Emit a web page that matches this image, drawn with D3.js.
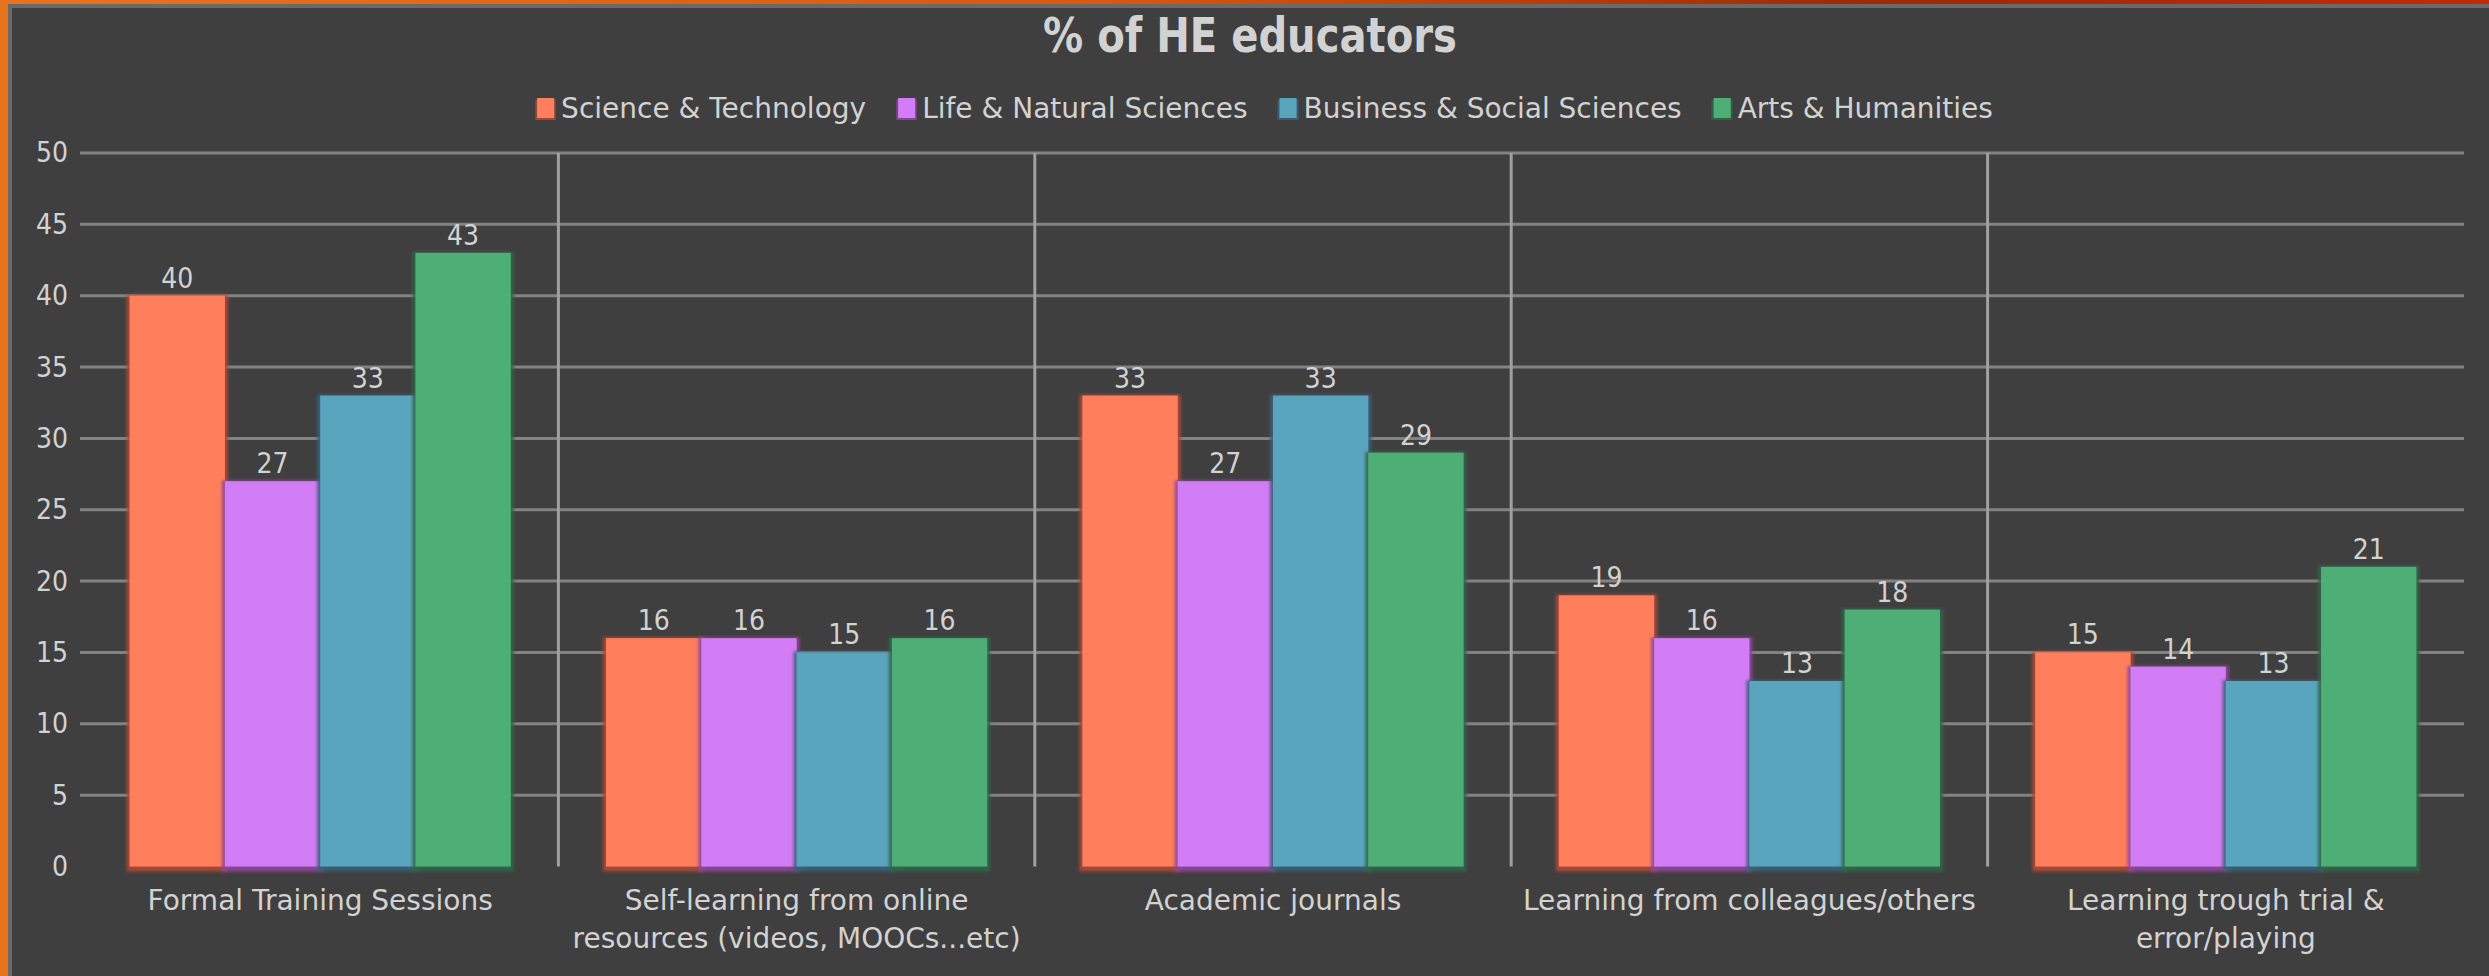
<!DOCTYPE html>
<html>
<head>
<meta charset="utf-8">
<script src="https://cdn.jsdelivr.net/npm/d3@7/dist/d3.min.js"></script>
<style>
  html, body { margin: 0; padding: 0; background: #3f3f3f; }
  svg { display: block; }
  text { font-family: "DejaVu Sans", sans-serif; fill: #d2d2d2; }
  text.num { font-family: "DejaVu Sans Condensed", "DejaVu Sans", sans-serif; font-stretch: condensed; }
</style>
</head>
<body>
<svg id="chart" width="2489" height="976"></svg>
<script>
// ---- data ----
const categories = [
  "Formal Training Sessions",
  "Self-learning from online\nresources (videos, MOOCs...etc)",
  "Academic journals",
  "Learning from colleagues/others",
  "Learning trough trial &\nerror/playing"
];
const seriesNames = ["Science & Technology", "Life & Natural Sciences", "Business & Social Sciences", "Arts & Humanities"];
const scienceTech    = [40, 16, 33, 19, 15];
const lifeNatural    = [27, 16, 27, 16, 14];
const businessSocial = [33, 15, 33, 13, 13];
const artsHumanities = [43, 16, 29, 18, 21];
const seriesValues = [scienceTech, lifeNatural, businessSocial, artsHumanities];
const seriesColors = ["#FF7F5B", "#D27BF5", "#5AA5BE", "#4DAF75"];
const yTicks = [0, 5, 10, 15, 20, 25, 30, 35, 40, 45, 50];
const titleText = "% of HE educators";

// ---- layout ----
const W = 2489, H = 976;
const plot = { left: 82, right: 2464, top: 153, bottom: 866.5 };

const svg = d3.select("#chart");

// frame: orange accent on the left and top edges
const defs = svg.append("defs");
const topGrad = defs.append("linearGradient").attr("id", "topEdge").attr("x1", "0").attr("x2", "1");
[["0%", "#E8731D"], ["45%", "#D9580F"], ["75%", "#9C2A06"], ["100%", "#C22A08"]]
  .forEach(([o, c]) => topGrad.append("stop").attr("offset", o).attr("stop-color", c));

// dark, hue-matched halo under each bar
const halo = defs.append("filter").attr("id", "barHalo")
  .attr("x", "-10%").attr("y", "-5%").attr("width", "120%").attr("height", "115%");
halo.append("feColorMatrix").attr("in", "SourceGraphic").attr("type", "matrix")
  .attr("values", "0.42 0 0 0 0  0 0.3 0 0 0  0 0 0.36 0 0  0 0 0 0.9 0").attr("result", "dark");
halo.append("feMorphology").attr("in", "dark").attr("operator", "dilate").attr("radius", 2.5).attr("result", "fat");
halo.append("feGaussianBlur").attr("in", "fat").attr("stdDeviation", 1.5).attr("result", "soft");
halo.append("feOffset").attr("in", "soft").attr("dx", 0).attr("dy", 2).attr("result", "shifted");
const merge = halo.append("feMerge");
merge.append("feMergeNode").attr("in", "shifted");
merge.append("feMergeNode").attr("in", "SourceGraphic");

svg.append("rect").attr("width", W).attr("height", H).attr("fill", "#3f3f3f");
svg.append("rect").attr("x", 0).attr("y", 4).attr("width", W).attr("height", 4).attr("fill", "#6a6a6a");
svg.append("rect").attr("x", 8).attr("y", 0).attr("width", 4).attr("height", H).attr("fill", "#6a6a6a");
svg.append("rect").attr("x", 0).attr("y", 0).attr("width", W).attr("height", 4).attr("fill", "url(#topEdge)");
svg.append("rect").attr("x", 0).attr("y", 0).attr("width", 8).attr("height", H).attr("fill", "#E8731D");

// ---- scales ----
const x0 = d3.scaleBand().domain(categories).range([plot.left, plot.right]).paddingInner(0).paddingOuter(0);
const bw = x0.bandwidth();
const x1 = d3.scaleBand().domain(seriesNames).range([bw * 0.1, bw * 0.9]).padding(0);
const y = d3.scaleLinear().domain([0, 50]).range([plot.bottom, plot.top]);

// ---- grid ----
svg.append("g").selectAll("line").data(yTicks.filter(t => t > 0)).join("line")
  .attr("x1", plot.left - 2).attr("x2", plot.right)
  .attr("y1", d => y(d)).attr("y2", d => y(d))
  .attr("stroke", "#838383").attr("stroke-width", 3);

svg.append("g").selectAll("line").data(categories.slice(1)).join("line")
  .attr("x1", d => x0(d)).attr("x2", d => x0(d))
  .attr("y1", y(50)).attr("y2", y(0))
  .attr("stroke", "#a0a0a0").attr("stroke-width", 3);

// ---- y axis ----
const yAxis = d3.axisLeft(y).tickValues(yTicks).tickSize(0).tickPadding(12);
const yg = svg.append("g").attr("transform", `translate(${plot.left - 2},0)`).call(yAxis);
yg.select(".domain").remove();
yg.selectAll("text").attr("class", "num").style("font-size", "28px").attr("fill", "#cfcfcf")
  .attr("font-family", null);

// ---- bars ----
const groups = svg.append("g").selectAll("g").data(categories).join("g")
  .attr("transform", d => `translate(${x0(d)},0)`);

const rowOf = (c, i) => seriesNames.map((s, k) => ({ series: s, k, value: seriesValues[k][i] }));

groups.selectAll("rect").data(rowOf).join("rect")
  .attr("x", d => x1(d.series))
  .attr("width", x1.bandwidth())
  .attr("y", d => y(d.value))
  .attr("height", d => y(0) - y(d.value))
  .attr("fill", d => seriesColors[d.k])
  .attr("filter", "url(#barHalo)");

groups.selectAll("text.num").data(rowOf).join("text").attr("class", "num")
  .attr("x", d => x1(d.series) + x1.bandwidth() / 2)
  .attr("y", d => y(d.value) - 8)
  .attr("text-anchor", "middle")
  .style("font-size", "28px")
  .attr("fill", "#d4d4d4")
  .text(d => d.value);

// ---- category labels ----
const catLabels = svg.append("g").selectAll("text").data(categories).join("text")
  .attr("x", d => x0(d) + bw / 2)
  .attr("y", 910)
  .attr("text-anchor", "middle")
  .style("font-size", "28px")
  .attr("fill", "#d0d0d0");
catLabels.selectAll("tspan").data(d => d.split("\n")).join("tspan")
  .attr("x", function () { return d3.select(this.parentNode).attr("x"); })
  .attr("dy", (d, i) => i === 0 ? 0 : 38)
  .text(d => d);

// ---- title ----
svg.append("text")
  .attr("x", 1250).attr("y", 52)
  .attr("text-anchor", "middle")
  .attr("textLength", 414).attr("lengthAdjust", "spacingAndGlyphs")
  .style("font-size", "48px").style("font-weight", "bold")
  .attr("fill", "#d9d9d9")
  .text(titleText);

// ---- legend ----
const legend = svg.append("g");
const keyW = 17, keyH = 20, keyGap = 7, itemGap = 32, legendY = 108;
const items = legend.selectAll("g").data(seriesNames).join("g");
items.append("rect")
  .attr("width", keyW).attr("height", keyH).attr("y", legendY - keyH / 2)
  .attr("fill", (d, i) => seriesColors[i]).attr("filter", "url(#barHalo)");
items.append("text")
  .attr("x", keyW + keyGap).attr("y", legendY + 10)
  .style("font-size", "28px").attr("fill", "#d0d0d0")
  .text(d => d);
const widths = [];
items.each(function () { widths.push(keyW + keyGap + this.querySelector("text").getComputedTextLength()); });
const total = d3.sum(widths) + itemGap * (widths.length - 1);
let cursor = 1265 - total / 2;
items.attr("transform", (d, i) => { const t = `translate(${cursor},0)`; cursor += widths[i] + itemGap; return t; });
</script>
</body>
</html>
